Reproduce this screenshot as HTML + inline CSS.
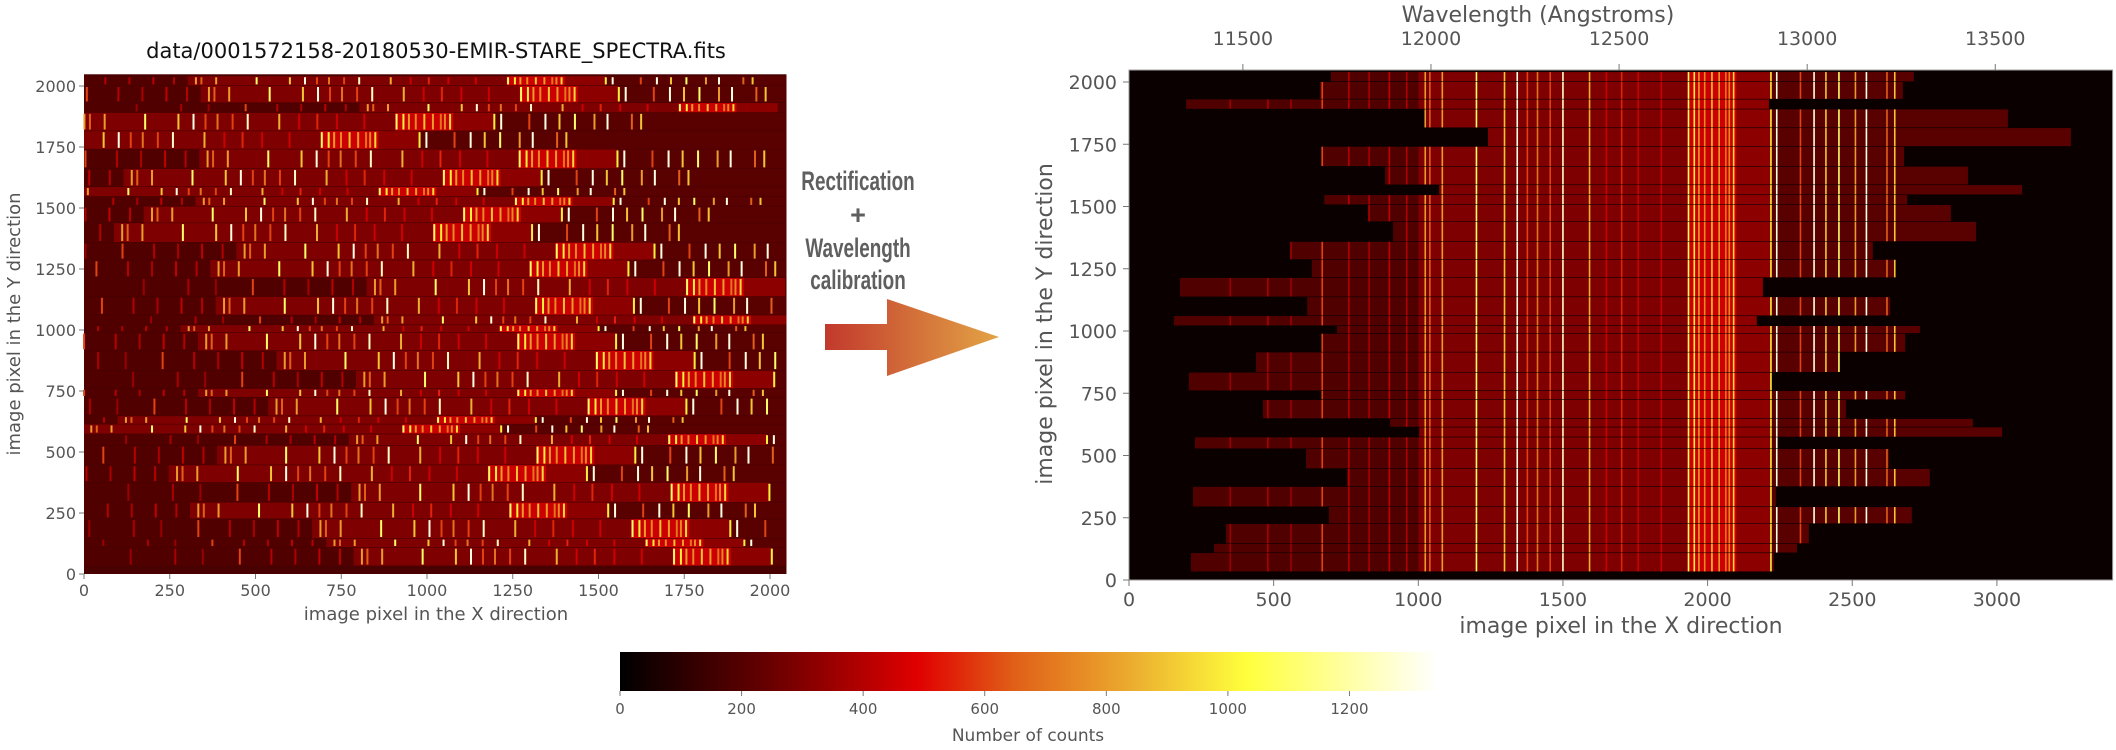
<!DOCTYPE html>
<html><head><meta charset="utf-8"><style>
html,body{margin:0;padding:0;background:#fff;}
svg{display:block;}
text{font-family:"DejaVu Sans","Liberation Sans",sans-serif;fill:#555;}
.arrowtxt{font-family:"Liberation Sans",sans-serif;font-weight:bold;fill:#5f5f5f;font-size:27px;}
</style></head><body>
<svg id="fig" width="2116" height="750" viewBox="0 0 2116 750" xmlns="http://www.w3.org/2000/svg">
<defs>
<linearGradient id="arrowGrad" x1="0" x2="1" y1="0" y2="0">
<stop offset="0" stop-color="#c2392d"/><stop offset="1" stop-color="#e3a445"/>
</linearGradient>
<linearGradient id="cbGrad" x1="0" x2="1" y1="0" y2="0"></linearGradient>
</defs>
<text x="436" y="58" text-anchor="middle" style="fill:#111;font-size:21px">data/0001572158-20180530-EMIR-STARE_SPECTRA.fits</text>
<g id="leftPlot"></g>
<g id="rightPlot"></g>
<g id="axes"></g>
<g>
<text class="arrowtxt" x="858" y="190" text-anchor="middle" transform="translate(858 0) scale(0.7 1) translate(-858 0)">Rectification</text>
<text class="arrowtxt" x="858" y="224" text-anchor="middle">+</text>
<text class="arrowtxt" x="858" y="257" text-anchor="middle" transform="translate(858 0) scale(0.7 1) translate(-858 0)">Wavelength</text>
<text class="arrowtxt" x="858" y="289" text-anchor="middle" transform="translate(858 0) scale(0.7 1) translate(-858 0)">calibration</text>
<polygon points="825,324 887,324 887,299 999,337 887,376 887,350 825,350" fill="url(#arrowGrad)"/>
</g>
<g id="colorbar"></g>
</svg>
<script>
// ---- data ----
const slitY0 = [32,108,145,225,293,374,446,526,573,613,647,723,759,833,914,989,1020,1060,1136,1213,1286,1358,1438,1506,1546,1586,1660,1740,1815,1890,1930,2000];
const slitY1 = [108,145,225,293,374,446,526,573,613,647,723,759,833,914,989,1020,1060,1136,1213,1286,1358,1438,1506,1546,1586,1660,1740,1815,1890,1930,2000,2040];
const slitStart = [214,294,335,691,221,753,612,228,1003,902,463,668,207,439,668,719,155,616,176,632,556,913,826,675,1072,885,664,1241,1023,197,660,698];
const linePos = [350,480,560,668,760,830,900,960,1024,1040,1083,1201,1298,1342,1377,1412,1456,1500,1592,1650,1703,1760,1840,1934,1954,1970,1990,2015,2040,2063,2075,2090,2219,2239,2321,2368,2409,2454,2511,2549,2620,2647];
const lineCounts = [350,380,350,600,400,380,420,400,800,650,800,1100,900,1300,600,700,600,1250,850,450,550,450,450,1100,1000,800,750,900,800,700,750,950,1000,1300,600,1300,900,1100,800,1300,650,900];
const contEdges = [0,1000,1930,2100,2220,3400];
const contCounts = [190,290,450,320,210];
const cmapVals = [0,250,490,650,850,1030,1344];
const cmapCols = ['#000000','#6a0000','#e00000','#e06018','#ecb030','#ffff3c','#ffffff'];
const leftXTicks = [0,250,500,750,1000,1250,1500,1750,2000];
const leftYTicks = [0,250,500,750,1000,1250,1500,1750,2000];
const rightXTicks = [0,500,1000,1500,2000,2500,3000];
const rightYTicks = [0,250,500,750,1000,1250,1500,1750,2000];
const waveTicks = [11500,12000,12500,13000,13500];
const cbTicks = [0,200,400,600,800,1000,1200];
const SLITW = 2015;

// ---- scales ----
const lx = d => 84 + d*0.343, ly = d => 574 - d*0.244;
const rx = d => 1129 + d*0.2893, ry = d => 580 - d*0.249;
const wx = a => rx(1694 + (a-12500)/0.769);
const cbx = c => 620 + c*(1437-620)/1344;
function hex(h){return [1,3,5].map(i=>parseInt(h.substr(i,2),16));}
function cmap(c){
  c=Math.max(0,Math.min(1344,c));
  for(let i=1;i<cmapVals.length;i++){ if(c<=cmapVals[i]){
    const t=(c-cmapVals[i-1])/(cmapVals[i]-cmapVals[i-1]);const a=hex(cmapCols[i-1]),b=hex(cmapCols[i]);
    return 'rgb('+a.map((v,k)=>Math.round(v+(b[k]-v)*t)).join(',')+')';}}
  return '#fff';
}
const NS='http://www.w3.org/2000/svg';
function mk(tag,parent,attrs){const e=document.createElementNS(NS,tag);for(const k in attrs)e.setAttribute(k,attrs[k]);parent.appendChild(e);return e;}

// ---- left raw image ----
const L=document.getElementById('leftPlot');
let bg=mk('rect',L,{x:lx(0),y:ly(2048),width:lx(2048)-lx(0),height:ly(0)-ly(2048),fill:cmap(170)});


for(let s=0;s<slitY0.length;s++){
  const y=ly(slitY1[s]), h=ly(slitY0[s])-ly(slitY1[s])-0.6;
  for(let j=0;j<contCounts.length;j++){
    const a=Math.max(0,contEdges[j]-slitStart[s]), b=Math.min(2048,contEdges[j+1]-slitStart[s]);
    if(b<=a) continue;
    const r=mk('rect',L,{x:lx(a),y:y,width:lx(b)-lx(a),height:h,fill:cmap(contCounts[j])});
    
    
  }
  for(let j=0;j<linePos.length;j++){
    const p=linePos[j]-slitStart[s]; if(p<0||p>SLITW) continue;
    const r=mk('rect',L,{x:lx(p)-0.9,y:y+1,width:2.0,height:h-2,fill:cmap(lineCounts[j])});
    
    
  }
}

// ---- right rectified image ----
const R=document.getElementById('rightPlot');
bg=mk('rect',R,{x:rx(0),y:ry(2048),width:rx(3400)-rx(0),height:ry(0)-ry(2048),fill:'#0a0000',stroke:'#999','stroke-width':1});


for(let s=0;s<slitY0.length;s++){
  const y=ry(slitY1[s]), h=ry(slitY0[s])-ry(slitY1[s])-0.6;
  const s0=slitStart[s], s1=slitStart[s]+SLITW;
  for(let j=0;j<contCounts.length;j++){
    const a=Math.max(s0,contEdges[j]), b=Math.min(s1,contEdges[j+1]);
    if(b<=a) continue;
    const r=mk('rect',R,{x:rx(a),y:y,width:rx(b)-rx(a),height:h,fill:cmap(contCounts[j])});
    
    
  }
  for(let j=0;j<linePos.length;j++){
    const p=linePos[j]; if(p<s0||p>s1) continue;
    const r=mk('rect',R,{x:rx(p)-0.8,y:y,width:1.6,height:h,fill:cmap(lineCounts[j])});
    
    
  }
}

// ---- axes ----
const A=document.getElementById('axes');
function txt(parent,x,y,s,size,anchor,name,extra){const t=mk('text',parent,Object.assign({x:x,y:y,'font-size':size,'text-anchor':anchor},extra||{}));t.textContent=s;return t;}
function tick(parent,x1,y1,x2,y2,name){const l=mk('line',parent,{x1:x1,y1:y1,x2:x2,y2:y2,stroke:'#777','stroke-width':1});}
leftXTicks.forEach(v=>{tick(A,lx(v),574,lx(v),579,'left-x-tick');txt(A,lx(v),596,String(v),16,'middle','left-x-tick-label');});
leftYTicks.forEach(v=>{tick(A,79,ly(v),84,ly(v),'left-y-tick');txt(A,76,ly(v)+6,String(v),16,'end','left-y-tick-label');});
txt(A,436,620,'image pixel in the X direction',18,'middle','left-x-axis-title');
txt(A,20,324,'image pixel in the Y direction',18,'middle','left-y-axis-title',{transform:'rotate(-90 20 324)'});
rightXTicks.forEach(v=>{tick(A,rx(v),580,rx(v),586,'right-x-tick');txt(A,rx(v),606,String(v),19,'middle','right-x-tick-label');});
rightYTicks.forEach(v=>{tick(A,1123,ry(v),1129,ry(v),'right-y-tick');txt(A,1117,ry(v)+7,String(v),19,'end','right-y-tick-label');});
waveTicks.forEach(v=>{tick(A,wx(v),64,wx(v),70,'wavelength-tick');txt(A,wx(v),45,String(v),19,'middle','wavelength-tick-label');});
txt(A,1621,633,'image pixel in the X direction',22,'middle','right-x-axis-title');
txt(A,1538,22,'Wavelength (Angstroms)',22,'middle','wavelength-axis-title');
txt(A,1052,324,'image pixel in the Y direction',22,'middle','right-y-axis-title',{transform:'rotate(-90 1052 324)'});

// ---- colorbar ----
const G=document.getElementById('cbGrad');
for(let i=0;i<cmapVals.length;i++){mk('stop',G,{offset:cmapVals[i]/1344,'stop-color':cmapCols[i]});}
const C=document.getElementById('colorbar');
const cb=mk('rect',C,{x:620,y:652,width:817,height:39,fill:'url(#cbGrad)'});


cbTicks.forEach(v=>{tick(C,cbx(v),691,cbx(v),696,'colorbar-tick');txt(C,cbx(v),714,String(v),15,'middle','colorbar-tick-label');});
txt(C,1028,741,'Number of counts',17,'middle','colorbar-title');
</script>
</body></html>
